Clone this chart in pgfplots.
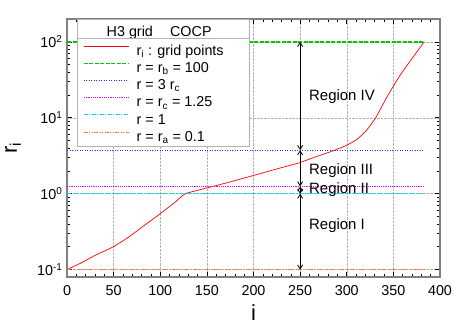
\documentclass[border=0pt]{standalone}
\usepackage{fontspec}
\setmainfont{Liberation Sans}
\usepackage{pgfplots}
\pgfplotsset{compat=1.18}
\usetikzlibrary{arrows.meta}

\definecolor{cRed}{RGB}{255,0,0}
\definecolor{cGreen}{RGB}{0,200,0}
\definecolor{cBlue}{RGB}{40,40,255}
\definecolor{cMag}{RGB}{255,0,255}
\definecolor{cCyan}{RGB}{0,220,220}
\definecolor{cOrange}{RGB}{255,120,50}

\tikzset{barb/.style={{Straight Barb[length=4bp,width=5bp]}-{Straight Barb[length=4bp,width=5bp]}}}
\pgfplotsset{legend image code/.code={\draw[#1] (0bp,4bp) -- (45bp,4bp);}}

\begin{document}
\begin{tikzpicture}
\path[use as bounding box] (0bp,0bp) rectangle (467bp,327bp);
\begin{axis}[
    at={(67bp,50bp)}, anchor=south west,
    scale only axis, width=373bp, height=258bp,
    ymode=log,
    xmin=0, xmax=400, ymin=0.08, ymax=200,
    xtick={0,50,...,400}, minor x tick num=4,
    ytick={0.1,1,10,100},
    yticklabels={10\textsuperscript{-1},10\textsuperscript{0},10\textsuperscript{1},10\textsuperscript{2}},
    /pgf/number format/assume math mode=true,
    ticklabel style={font=\fontsize{14.4}{16}\selectfont},
    xticklabel style={yshift=-5bp},
    yticklabel style={xshift=-1bp},
    axis line style={gray, line width=1.5bp},
    major tick style={black, line width=0.6bp},
    minor tick style={black, line width=0.6bp},
    major tick length=5bp, minor tick length=3bp,
    xmajorgrids, ymajorgrids,
    major grid style={densely dotted, gray!60, line width=0.5bp},
    xlabel={i}, ylabel={r\textsubscript{i}},
    label style={font=\fontsize{22}{24}\selectfont, inner sep=0pt},
    xlabel style={at={(axis description cs:0.5,-0.17)}, anchor=base},
    ylabel style={at={(axis description cs:-0.145,0.5)}, anchor=center},
    legend cell align=left,
    legend style={name=leg, at={(axis description cs:0.0268,1)}, anchor=north west,
        draw=gray!60, fill=white, line width=0.6bp,
        font=\fontsize{14.4}{16}\selectfont,
        inner xsep=6bp, inner ysep=2.5bp, row sep=1.6bp, column sep=5bp,
        nodes={inner xsep=2bp, inner ysep=0bp, text height=13bp, text depth=2.6bp}},
]
\addlegendimage{empty legend}
\addlegendentry[text height=15bp, text depth=4bp]{\hspace*{-30bp}H3 grid\hspace{1.2em}COCP}

\addplot[color=cRed, line width=0.7bp, smooth, tension=0.3] coordinates {
(0,0.100) (16,0.124) (30,0.154) (49,0.198) (66,0.268) (84,0.391) (99,0.534)
(116,0.776) (127,1.00) (150,1.19) (175,1.43) (200,1.74) (225,2.12) (239,2.36)
(250,2.57) (261,2.89) (273,3.25) (286,3.70) (300,4.35) (311,5.2) (321,6.8)
(331,10.0) (343,18.7) (357,36) (371,62.7) (383,100)};
\addlegendentry{r\textsubscript{i} : grid points\hspace*{18bp}}

\addplot[color=cGreen, line width=1.4bp, dash pattern=on 4bp off 1.5bp] coordinates {(0,100) (383,100)};
\addlegendentry{r = r\textsubscript{b} = 100}
\addplot[color=cBlue, line width=1bp, dash pattern=on 1bp off 1.5bp] coordinates {(0,3.75) (383,3.75)};
\addlegendentry{r = 3 r\textsubscript{c}}
\addplot[color=cMag, line width=1.2bp, densely dotted] coordinates {(0,1.25) (383,1.25)};
\addlegendentry{r = r\textsubscript{c} = 1.25}
\addplot[color=cCyan, line width=1bp, dash pattern=on 4bp off 1.5bp on 1bp off 1.5bp] coordinates {(0,1) (383,1)};
\addlegendentry{r = 1}
\addplot[color=cOrange, line width=1bp, dash pattern=on 4bp off 1.5bp on 1bp off 1.5bp on 1bp off 1.5bp] coordinates {(0,0.1) (383,0.1)};
\addlegendentry{r = r\textsubscript{a} = 0.1}

\addplot[black, line width=0.8bp, barb, forget plot] coordinates {(250,0.1) (250,1)};
\addplot[black, line width=0.8bp, barb, forget plot] coordinates {(250,1) (250,1.25)};
\addplot[black, line width=0.8bp, barb, forget plot] coordinates {(250,1.25) (250,3.75)};
\addplot[black, line width=0.8bp, barb, forget plot] coordinates {(250,3.75) (250,100)};

\node[anchor=base west, inner sep=0pt, font=\fontsize{15}{17}\selectfont] at (axis cs:259.5,16.9) {Region IV};
\node[anchor=base west, inner sep=0pt, font=\fontsize{15}{17}\selectfont] at (axis cs:259.5,1.80) {Region III};
\node[anchor=base west, inner sep=0pt, font=\fontsize{15}{17}\selectfont] at (axis cs:259.5,1.0) {Region II};
\node[anchor=base west, inner sep=0pt, font=\fontsize{15}{17}\selectfont] at (axis cs:259.5,0.339) {Region I};
\end{axis}
\draw[gray!60, line width=0.6bp] ([yshift=-19.3bp]leg.north west) -- ([yshift=-19.3bp]leg.north east);
\end{tikzpicture}
\end{document}
